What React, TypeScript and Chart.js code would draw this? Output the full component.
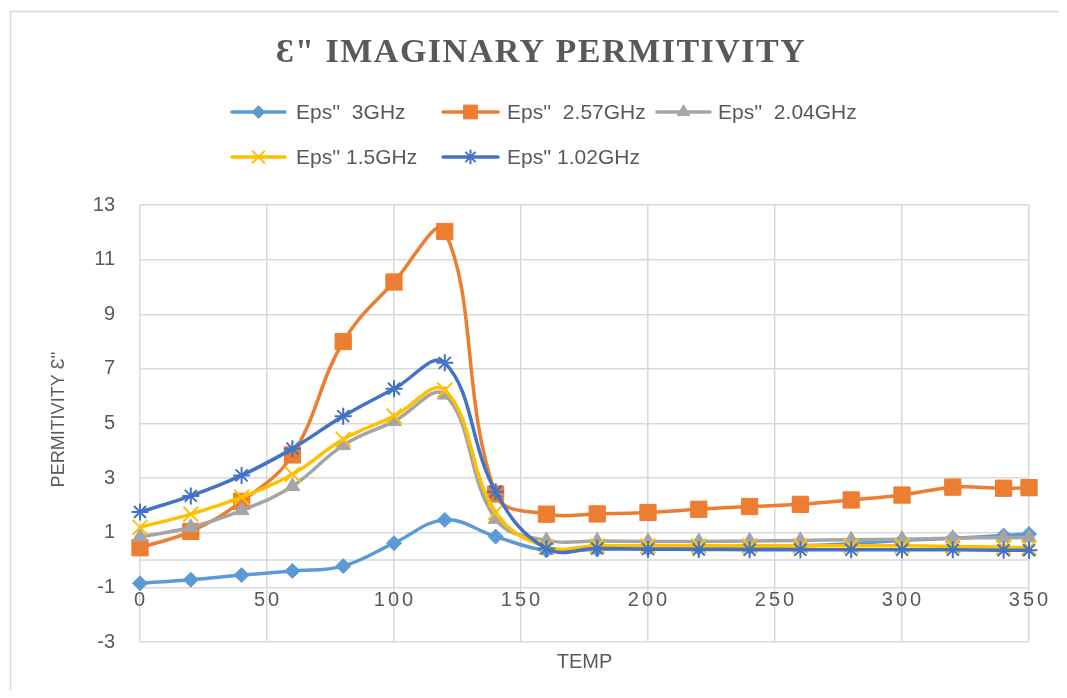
import React, { useEffect, useRef } from 'react';
import { Chart, registerables } from 'chart.js';
import { drawPoint } from 'chart.js/helpers';

Chart.register(...registerables);

// ---- data ----
const temps = [0, 20, 40, 60, 80, 100, 120, 140, 160, 180, 200, 220, 240, 260, 280, 300, 320, 340, 350];
const eps3GHz = [-0.85, -0.72, -0.55, -0.4, -0.22, 0.62, 1.47, 0.86, 0.35, 0.4, 0.42, 0.45, 0.48, 0.52, 0.6, 0.72, 0.8, 0.9, 0.95];
const eps257GHz = [0.45, 1.05, 2.15, 3.85, 8.0, 10.18, 12.03, 2.42, 1.68, 1.69, 1.74, 1.86, 1.96, 2.04, 2.2, 2.38, 2.67, 2.63, 2.65];
const eps204GHz = [0.85, 1.2, 1.82, 2.7, 4.2, 5.08, 6.05, 1.5, 0.72, 0.7, 0.68, 0.68, 0.7, 0.72, 0.74, 0.76, 0.8, 0.82, 0.82];
const eps15GHz = [1.2, 1.68, 2.3, 3.14, 4.42, 5.27, 6.22, 1.75, 0.48, 0.52, 0.52, 0.52, 0.52, 0.52, 0.52, 0.52, 0.5, 0.47, 0.45];
const eps102GHz = [1.76, 2.35, 3.1, 4.08, 5.27, 6.27, 7.22, 2.5, 0.42, 0.42, 0.4, 0.39, 0.38, 0.38, 0.38, 0.38, 0.38, 0.36, 0.36];
const seriesLabels = ["Eps''  3GHz", "Eps''  2.57GHz", "Eps''  2.04GHz", "Eps'' 1.5GHz", "Eps'' 1.02GHz"];
const xTickValues = [0, 50, 100, 150, 200, 250, 300, 350];
const chartTitle = 'Ɛ" IMAGINARY PERMITIVITY';
const yTitle = "PERMITIVITY Ɛ''";
const xTitle = 'TEMP';

const TEXT = '#595959';
const GRID = '#D9D9D9';
const SANS = '"Liberation Sans", Arial, sans-serif';

const toXY = (vals: number[]) => vals.map((v, i) => ({ x: temps[i], y: v }));

// legend layout (canvas coords)
const legendSlots = [
  { x1: 224, x2: 277, tx: 288, y: 104 },
  { x1: 435, x2: 490, tx: 499, y: 104 },
  { x1: 649, x2: 702, tx: 710, y: 104 },
  { x1: 224, x2: 277, tx: 288, y: 149 },
  { x1: 435, x2: 490, tx: 499, y: 149 },
];

const decorPlugin = {
  id: 'decor',
  beforeDatasetsDraw(chart: any) {
    const { ctx, chartArea } = chart;
    const y0 = chart.scales.y.getPixelForValue(0);
    ctx.save();
    ctx.strokeStyle = GRID;
    ctx.lineWidth = 1.5;
    ctx.beginPath();
    ctx.moveTo(chartArea.left, y0);
    ctx.lineTo(chartArea.right, y0);
    ctx.stroke();
    ctx.restore();
  },
  afterDraw(chart: any) {
    const { ctx, chartArea } = chart;
    const xs = chart.scales.x;
    const ys = chart.scales.y;
    ctx.save();
    // frame
    ctx.strokeStyle = GRID;
    ctx.lineWidth = 1.5;
    ctx.strokeRect(2.5, 3.5, 1200, 1200);

    // title
    ctx.fillStyle = TEXT;
    ctx.font = 'bold 34px "Liberation Serif", "Times New Roman", serif';
    (ctx as any).letterSpacing = '1.5px';
    ctx.textAlign = 'center';
    ctx.textBaseline = 'alphabetic';
    ctx.fillText(chartTitle, 533, 54);

    // x tick labels
    ctx.font = '20px ' + SANS;
    (ctx as any).letterSpacing = '3px';
    ctx.textBaseline = 'middle';
    const yl = ys.getPixelForValue(-1) + 13;
    xTickValues.forEach((v) => {
      ctx.fillText(String(v), xs.getPixelForValue(v) + 1, yl);
    });
    (ctx as any).letterSpacing = '0px';

    // x title
    ctx.font = '20px ' + SANS;
    ctx.fillText(xTitle, (chartArea.left + chartArea.right) / 2, 654);

    // y title
    ctx.save();
    ctx.translate(51, (chartArea.top + chartArea.bottom) / 2 - 4);
    ctx.rotate(-Math.PI / 2);
    ctx.font = '18px ' + SANS;
    ctx.fillText(yTitle, 0, 0);
    ctx.restore();

    // legend
    chart.data.datasets.forEach((ds: any, i: number) => {
      const s = legendSlots[i];
      ctx.save();
      ctx.strokeStyle = ds.borderColor;
      ctx.lineWidth = 3.5;
      ctx.lineCap = 'round';
      ctx.beginPath();
      ctx.moveTo(s.x1, s.y);
      ctx.lineTo(s.x2, s.y);
      ctx.stroke();
      ctx.fillStyle = ds.pointBackgroundColor;
      ctx.strokeStyle = ds.pointBorderColor;
      ctx.lineWidth = ds.pointBorderWidth;
      ctx.lineCap = 'butt';
      drawPoint(ctx, { pointStyle: ds.pointStyle, radius: ds.pointRadius * 0.85, borderWidth: ds.pointBorderWidth, rotation: 0 } as any, (s.x1 + s.x2) / 2, s.y);
      ctx.restore();
      ctx.fillStyle = TEXT;
      ctx.font = '21px ' + SANS;
      ctx.textAlign = 'left';
      ctx.textBaseline = 'middle';
      ctx.fillText(ds.label, s.tx, s.y + 1);
    });
    ctx.restore();
  },
};

const mk = (label: string, vals: number[], color: string, style: string, radius: number, bw: number, order: number) => ({
  label,
  data: toXY(vals),
  borderColor: color,
  backgroundColor: color,
  borderWidth: 3.5,
  pointStyle: style,
  pointRadius: radius,
  pointHoverRadius: radius,
  pointBackgroundColor: color,
  pointBorderColor: color,
  pointBorderWidth: bw,
  tension: 0.4,
  clip: false as any,
  order,
});

export default function App() {
  const ref = useRef<HTMLCanvasElement | null>(null);
  useEffect(() => {
    if (!ref.current) return;
    const chart = new Chart(ref.current, {
      type: 'line',
      data: {
        datasets: [
          mk(seriesLabels[0], eps3GHz, '#5B9BD5', 'rectRot', 7.5, 1, 5),
          mk(seriesLabels[1], eps257GHz, '#ED7D31', 'rect', 11.5, 1, 4),
          mk(seriesLabels[2], eps204GHz, '#A5A5A5', 'triangle', 8.5, 1, 3),
          mk(seriesLabels[3], eps15GHz, '#FFC000', 'crossRot', 10.5, 2, 2),
          mk(seriesLabels[4], eps102GHz, '#4472C4', 'star', 8.5, 2, 1),
        ] as any,
      },
      options: {
        animation: false,
        responsive: false,
        maintainAspectRatio: false,
        devicePixelRatio: 1,
        layout: { padding: { left: 0, right: 38, top: 197, bottom: 56 } },
        plugins: { legend: { display: false }, title: { display: false }, tooltip: { enabled: false } },
        events: [],
        scales: {
          x: {
            type: 'linear',
            min: 0,
            max: 350,
            ticks: { display: false, stepSize: 50 },
            grid: { color: GRID, lineWidth: 1.5, drawTicks: false },
            border: { display: false },
            afterFit: (s: any) => { s.height = 0; },
          },
          y: {
            type: 'linear',
            min: -3,
            max: 13,
            ticks: { stepSize: 2, padding: 25, color: TEXT, font: { family: SANS, size: 20 } },
            grid: { color: GRID, lineWidth: 1.5, drawTicks: false },
            border: { display: false },
            afterFit: (s: any) => { s.width = 132; },
          },
        },
      },
      plugins: [decorPlugin],
    } as any);
    return () => chart.destroy();
  }, []);
  return (
    <div style={{ width: 1051, height: 682, overflow: 'visible' }}>
      <canvas ref={ref} width={1059} height={690} style={{ display: 'block' }} />
    </div>
  );
}
